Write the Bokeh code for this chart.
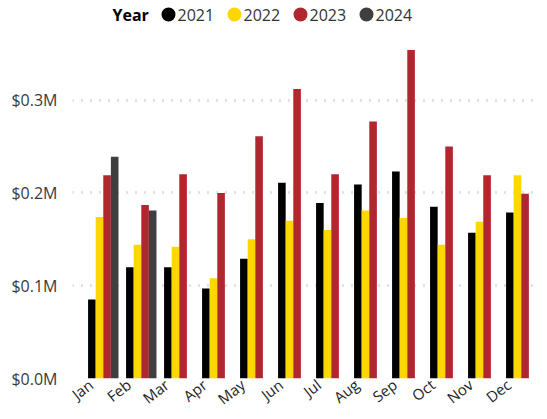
from bokeh.plotting import figure
from bokeh.models import (ColumnDataSource, Range1d, FixedTicker, CustomJSTickFormatter,
                          BoxAnnotation, Label)
from bokeh.transform import dodge
from bokeh.embed import file_html
from bokeh.resources import INLINE

nan = float("nan")

months = ["Jan", "Feb", "Mar", "Apr", "May", "Jun", "Jul", "Aug", "Sep", "Oct", "Nov", "Dec"]
years = ["2021", "2022", "2023", "2024"]
# values in $M
sales_2021 = [0.085, 0.120, 0.120, 0.097, 0.129, 0.211, 0.189, 0.209, 0.223, 0.185, 0.157, 0.179]
sales_2022 = [0.174, 0.144, 0.142, 0.108, 0.150, 0.170, 0.160, 0.181, 0.173, 0.144, 0.169, 0.219]
sales_2023 = [0.219, 0.187, 0.220, 0.200, 0.261, 0.312, 0.220, 0.277, 0.354, 0.250, 0.219, 0.199]
sales_2024 = [0.239, 0.181, nan, nan, nan, nan, nan, nan, nan, nan, nan, nan]
y_ticks = [0.0, 0.1, 0.2, 0.3]

colors = ["#000000", "#FFD700", "#B0282E", "#3F3F3F"]
FONT = "Open Sans"

src = ColumnDataSource(dict(
    x=list(range(len(months))),
    month=months,
    y2021=sales_2021, y2022=sales_2022, y2023=sales_2023, y2024=sales_2024,
))

p = figure(width=547, height=419, output_backend="svg", toolbar_location=None,
           x_range=Range1d(-0.81, 11.506), y_range=Range1d(0, 0.4073),
           min_border_left=72, min_border_right=7, min_border_top=0, min_border_bottom=39)
p.outline_line_color = None
p.background_fill_color = "white"
p.border_fill_color = "white"

offsets = [-0.3, -0.1, 0.1, 0.3]
cols = ["y2021", "y2022", "y2023", "y2024"]
for col, off, c in zip(cols, offsets, colors):
    p.vbar(x=dodge("x", off, range=p.x_range), top=col, width=0.2, bottom=0,
           source=src, fill_color=c, line_color=None)

# x axis (month labels)
shift = 0.33
p.xaxis.ticker = FixedTicker(ticks=[i - shift for i in range(len(months))])
p.xaxis.formatter = CustomJSTickFormatter(args=dict(months=months, shift=shift),
                                          code="return months[Math.round(tick + shift)];")
p.xaxis.axis_line_color = None
p.xaxis.major_tick_line_color = None
p.xaxis.minor_tick_line_color = None
p.xaxis.major_tick_out = 0
p.xaxis.major_tick_in = 0
p.xaxis.minor_tick_out = 0
p.xaxis.major_label_orientation = 0.66
p.xaxis.major_label_standoff = 4
p.xaxis.major_label_text_font = FONT
p.xaxis.major_label_text_font_size = "15px"
p.xaxis.major_label_text_color = "#252423"
p.xgrid.grid_line_color = None

# y axis
p.yaxis.ticker = FixedTicker(ticks=y_ticks)
p.yaxis.formatter = CustomJSTickFormatter(code="return '$' + tick.toFixed(1) + 'M';")
p.yaxis.axis_line_color = None
p.yaxis.major_tick_line_color = None
p.yaxis.minor_tick_line_color = None
p.yaxis.major_tick_out = 0
p.yaxis.major_tick_in = 0
p.yaxis.minor_tick_out = 0
p.yaxis.major_label_standoff = 15
p.yaxis.major_label_text_font = FONT
p.yaxis.major_label_text_font_size = "16px"
p.yaxis.major_label_text_color = "#3a3a3a"
p.ygrid.ticker = FixedTicker(ticks=y_ticks)
p.ygrid.grid_line_color = "#c4c4c4"
p.ygrid.grid_line_width = 3
p.ygrid.grid_line_dash = "1 8"

# legend: title, circle markers and labels (screen units, relative to the plot frame)
LEG_Y = 364
p.add_layout(Label(x=40, y=LEG_Y, x_units="screen", y_units="screen", text="Year",
                   text_font=FONT, text_font_size="16px", text_font_style="bold",
                   text_color="#000000", text_baseline="middle"))
for i, (yr, c) in enumerate(zip(years, colors)):
    cx = 96 + 66 * i
    p.add_layout(BoxAnnotation(left=cx - 7, right=cx + 7, bottom=LEG_Y - 7, top=LEG_Y + 7,
                               left_units="screen", right_units="screen",
                               bottom_units="screen", top_units="screen",
                               border_radius=7, fill_color=c, fill_alpha=1.0,
                               line_color=None))
    p.add_layout(Label(x=cx + 9, y=LEG_Y, x_units="screen", y_units="screen", text=yr,
                       text_font=FONT, text_font_size="16px", text_color="#333333",
                       text_baseline="middle"))

open("out.html", "w").write(file_html(p, INLINE))
